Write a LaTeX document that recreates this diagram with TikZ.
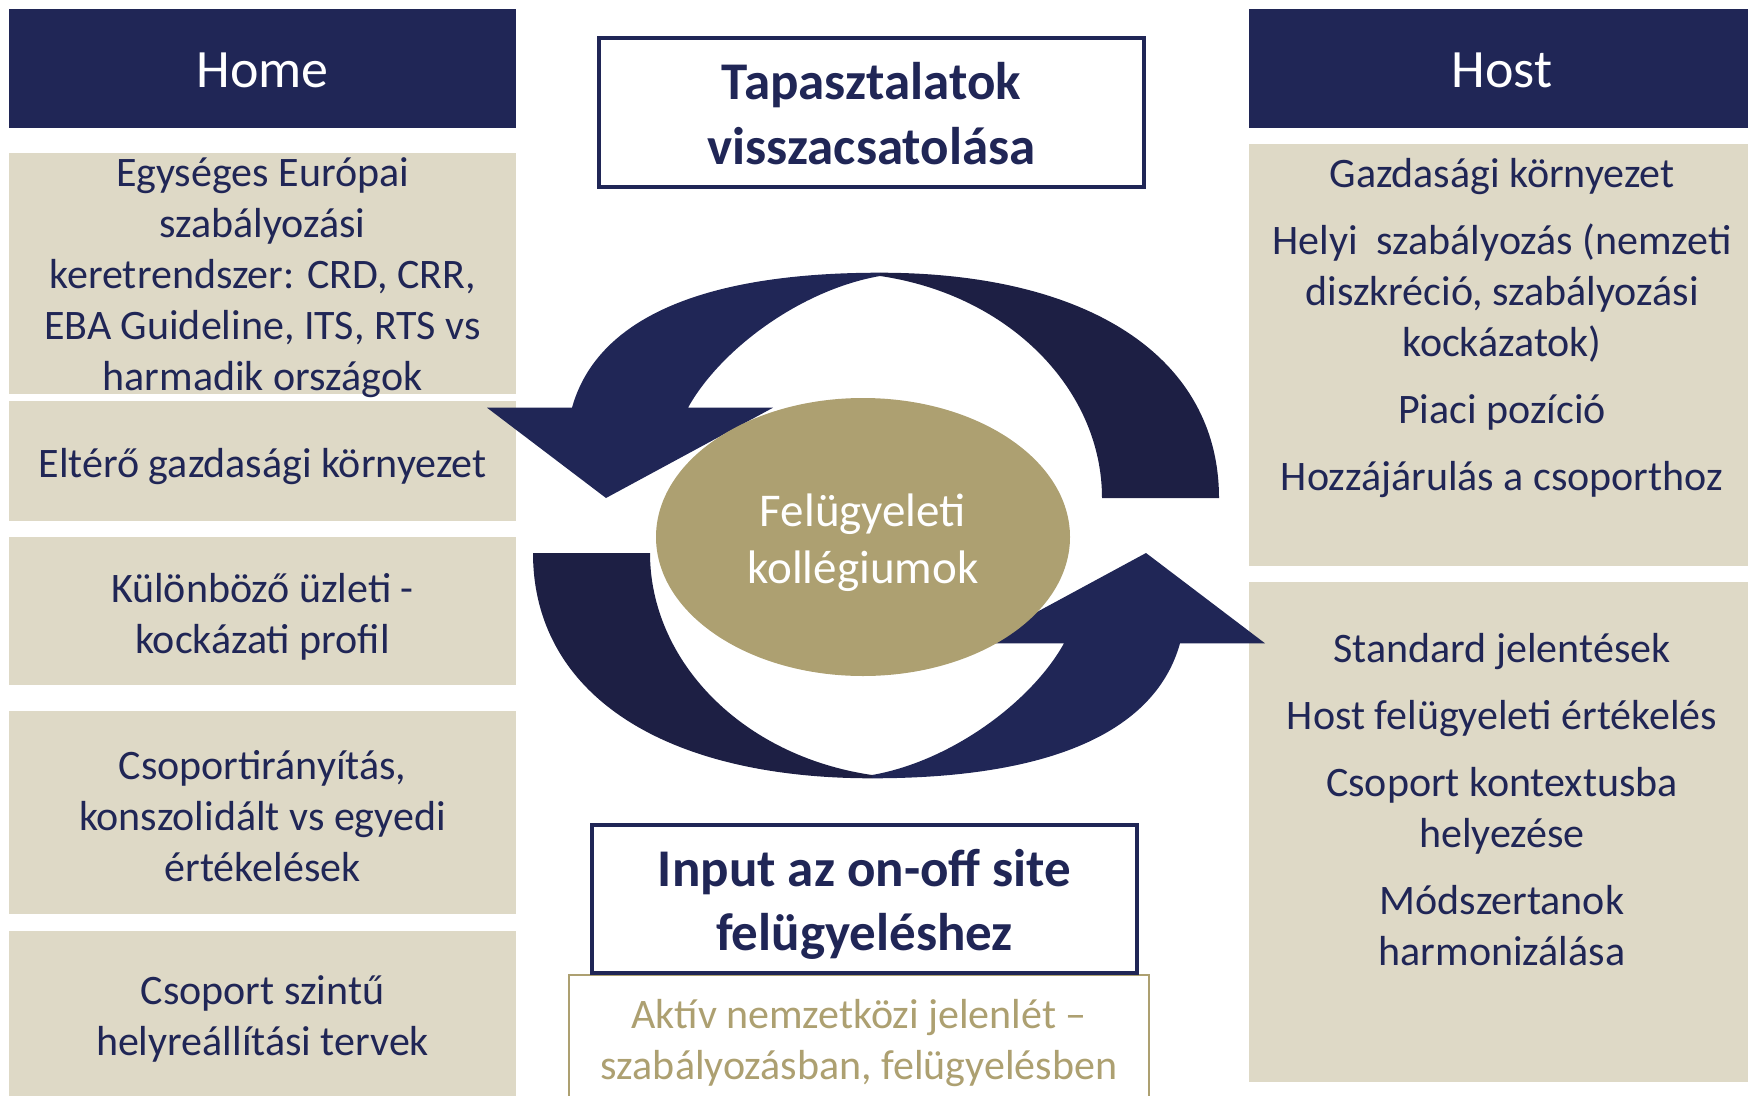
\documentclass[tikz,border=0pt]{standalone}
\usepackage{fontspec}
\setmainfont{Carlito}
\usetikzlibrary{shapes.geometric}
\definecolor{navy}{RGB}{32,38,86}
\definecolor{navydark}{RGB}{29,31,68}
\definecolor{beige}{RGB}{222,217,198}
\definecolor{gold}{RGB}{173,160,113}
\begin{document}
\begin{tikzpicture}[x=1pt,y=-1pt,
  hdr/.style={rectangle, fill=navy, inner sep=0pt, outer sep=0pt,
    minimum width=507pt, minimum height=119pt},
  hdrtext/.style={text=white, inner sep=0pt, font=\fontsize{54}{66}\selectfont},
  card/.style={rectangle, fill=beige, inner sep=0pt, outer sep=0pt, minimum width=507pt},
  cardtext/.style={text=navy, inner sep=0pt, align=center, font=\fontsize{42}{51}\selectfont},
  framebox/.style={rectangle, draw=navy, line width=4pt, fill=white, inner sep=0pt,
    minimum width=545pt},
  frametext/.style={text=navy, inner sep=0pt, align=center, font=\bfseries\fontsize{53}{64}\selectfont},
  goldbox/.style={rectangle, draw=gold, line width=2pt, fill=white, inner sep=0pt},
  goldtext/.style={text=gold, inner sep=0pt, align=center, font=\fontsize{42}{51}\selectfont},
  hub/.style={ellipse, fill=gold, inner sep=0pt, minimum width=414pt, minimum height=278pt},
  hubtext/.style={text=white, inner sep=0pt, align=center, font=\fontsize{47}{57}\selectfont}
]
\useasboundingbox (0,0) rectangle (1748,1095);
\clip (0,0) rectangle (1748,1095);

% Home column
\node[hdr] (home) at (262.5,68.5) {};
\node[hdrtext] (homet) at (262.5,70.7) {Home};
\node[card, minimum height=241pt] (h1) at (262.5,273.5) {};
\node[cardtext] (h1t) at (262.5,278)
  {Egységes Európai\\szabályozási\\keretrendszer: CRD, CRR,\\EBA Guideline, ITS, RTS vs\\harmadik országok};
\node[card, minimum height=120pt] (h2) at (262.5,461) {};
\node[cardtext] (h2t) at (262.5,466.5) {Eltérő gazdasági környezet};
\node[card, minimum height=148pt] (h3) at (262.5,611) {};
\node[cardtext] (h3t) at (262.5,616.5) {Különböző üzleti -\\kockázati profil};
\node[card, minimum height=203pt] (h4) at (262.5,812.5) {};
\node[cardtext] (h4t) at (262.5,816) {Csoportirányítás,\\konszolidált vs egyedi\\értékelések};
\node[card, minimum height=168pt] (h5) at (262.5,1015) {};
\node[cardtext] (h5t) at (262.5,1018.5) {Csoport szintű\\helyreállítási tervek};

% Host column
\node[hdr, minimum width=499pt] (host) at (1498.5,68.5) {};
\node[hdrtext] (hostt) at (1502,70.7) {Host};
\node[card, minimum width=499pt, minimum height=422pt] (s1) at (1498.5,355) {};
\node[cardtext] (s1t) at (1502,328.5)
  {Gazdasági környezet\\[16pt]Helyi\ \ szabályozás (nemzeti\\diszkréció, szabályozási\\kockázatok)\\[16pt]Piaci pozíció\\[16pt]Hozzájárulás a csoporthoz};
\node[card, minimum width=499pt, minimum height=500pt] (s2) at (1498.5,832) {};
\node[cardtext] (s2t) at (1502,800)
  {Standard jelentések\\[16pt]Host felügyeleti értékelés\\[16pt]Csoport kontextusba\\helyezése\\[16pt]Módszertanok\\harmonizálása};

% circular arrows
\begin{scope}
  \fill[navy] (880,272.7) .. controls (690,272.7) and (595,325) .. (572,407.7)
    -- (487,407.7) -- (606,498) -- (773,407.7) -- (688,407.7)
    .. controls (720,350) and (800,290) .. (880,276) -- cycle;
  \fill[navydark] (880,272.7) .. controls (1090,272.7) and (1219,358) .. (1219,498)
    -- (1102,498) .. controls (1102,390) and (1010,295) .. (880,276) -- cycle;
\end{scope}
\begin{scope}[rotate around={180:(876,525.5)}]
  \fill[navy] (880,272.7) .. controls (690,272.7) and (595,325) .. (572,407.7)
    -- (487,407.7) -- (606,498) -- (773,407.7) -- (688,407.7)
    .. controls (720,350) and (800,290) .. (880,276) -- cycle;
  \fill[navydark] (880,272.7) .. controls (1090,272.7) and (1219,358) .. (1219,498)
    -- (1102,498) .. controls (1102,390) and (1010,295) .. (880,276) -- cycle;
\end{scope}

% centre
\node[hub] (coll) at (863,537) {};
\node[hubtext] (collt) at (863,543) {Felügyeleti\\kollégiumok};

% middle boxes
\node[framebox, minimum height=149pt] (title) at (871.5,112.5) {};
\node[frametext, font=\bfseries\fontsize{53}{65}\selectfont] (titlet) at (871.5,113.5) {Tapasztalatok\\visszacsatolása};
\node[goldbox, minimum width=580pt, minimum height=127pt] (aktiv) at (859,1038.5) {};
\node[goldtext] (aktivt) at (859,1043) {Aktív nemzetközi jelenlét –\\szabályozásban, felügyelésben};
\node[framebox, minimum height=148pt] (input) at (864.5,899) {};
\node[frametext] (inputt) at (864.5,904) {Input az on-off site\\felügyeléshez};
\end{tikzpicture}
\end{document}
